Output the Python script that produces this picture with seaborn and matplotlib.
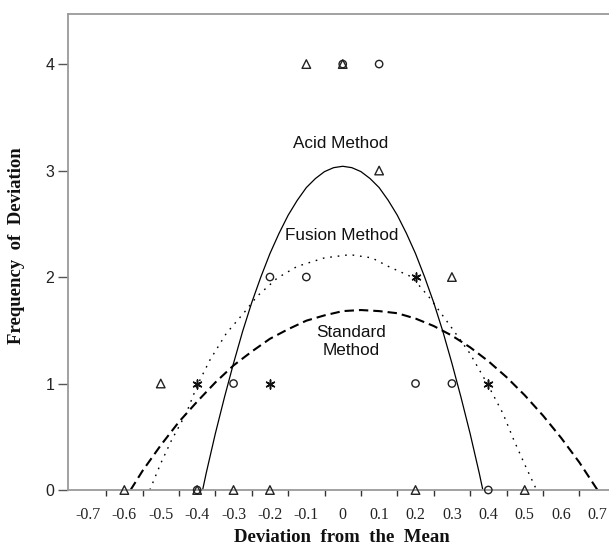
import matplotlib
matplotlib.use("Agg")
import matplotlib.pyplot as plt
import seaborn as sns

# ---- data ----
tick_values = [-0.7, -0.6, -0.5, -0.4, -0.3, -0.2, -0.1, 0, 0.1, 0.2, 0.3, 0.4, 0.5, 0.6, 0.7]
tick_labels = ["-0.7", "-0.6", "-0.5", "-0.4", "-0.3", "-0.2", "-0.1", "0",
               "0.1", "0.2", "0.3", "0.4", "0.5", "0.6", "0.7"]
y_ticks = [0, 1, 2, 3, 4]

tri_x = [-0.1, 0.0, 0.1, 0.3, -0.5, -0.6, -0.4, -0.3, -0.2, 0.2, 0.5]
tri_y = [4, 4, 3, 2, 1, 0, 0, 0, 0, 0, 0]
circ_x = [0.0, 0.1, -0.2, -0.1, -0.3, 0.2, 0.3, -0.4, 0.4]
circ_y = [4, 4, 2, 2, 1, 1, 1, 0, 0]
star_x = [0.2, -0.4, -0.2, 0.4]
star_y = [2, 1, 1, 1]

acid_x = [-0.385, -0.375, -0.35, -0.325, -0.30, -0.275, -0.25, -0.225, -0.20, -0.175,
          -0.15, -0.125, -0.10, -0.075, -0.05, -0.025, 0.0,
          0.025, 0.05, 0.075, 0.10, 0.125, 0.15, 0.175, 0.20, 0.225, 0.25, 0.275,
          0.30, 0.325, 0.35, 0.375, 0.385]
acid_y = [0.0, 0.16, 0.53, 0.87, 1.19, 1.49, 1.76, 2.00, 2.22, 2.41,
          2.58, 2.72, 2.84, 2.925, 2.99, 3.027, 3.04,
          3.027, 2.99, 2.925, 2.84, 2.72, 2.58, 2.41, 2.22, 2.00, 1.76, 1.49,
          1.19, 0.87, 0.53, 0.16, 0.0]

fusion_x = [-0.53, -0.50, -0.47, -0.43, -0.40, -0.365, -0.32, -0.27, -0.235, -0.18,
            -0.125, -0.05, 0.02, 0.08, 0.125, 0.19, 0.24, 0.30, 0.35, 0.40, 0.44,
            0.47, 0.50, 0.53]
fusion_y = [0.0, 0.25, 0.47, 0.72, 0.98, 1.22, 1.47, 1.67, 1.82, 1.99,
            2.10, 2.18, 2.21, 2.18, 2.10, 2.00, 1.80, 1.52, 1.28, 0.98, 0.72,
            0.47, 0.24, 0.02]

std_x = [-0.583, -0.55, -0.50, -0.45, -0.40, -0.35, -0.30, -0.25, -0.20, -0.15,
         -0.10, -0.05, 0.0, 0.05, 0.10, 0.15, 0.20, 0.25, 0.30, 0.35, 0.40,
         0.45, 0.50, 0.55, 0.60, 0.65, 0.70]
std_y = [0.0, 0.18, 0.42, 0.64, 0.83, 1.01, 1.17, 1.30, 1.42, 1.51,
         1.59, 1.64, 1.68, 1.69, 1.68, 1.66, 1.61, 1.54, 1.45, 1.34, 1.21,
         1.06, 0.89, 0.70, 0.49, 0.26, 0.0]

# ---- figure ----
sns.set_theme(style="white")
plt.rcParams["font.family"] = ["Liberation Sans", "DejaVu Sans"]

fig = plt.figure(figsize=(6.09, 5.56), dpi=100)
ax = fig.add_axes([68.3 / 609, 1 - 490 / 556, 1 - 68.3 / 609, (490 - 14) / 556])

sns.lineplot(x=acid_x, y=acid_y, ax=ax, color="black", linewidth=0.9,
             sort=False, estimator=None)
sns.lineplot(x=fusion_x, y=fusion_y, ax=ax, color="black", linewidth=1.0,
             sort=False, estimator=None, linestyle=(0, (1.2, 4.2)))
sns.lineplot(x=std_x, y=std_y, ax=ax, color="black", linewidth=1.5,
             sort=False, estimator=None, linestyle=(0, (4.5, 2.4)))

sns.scatterplot(x=tri_x, y=tri_y, ax=ax, marker="^", s=38, facecolor="none",
                edgecolor="#222222", linewidth=1.0, zorder=3, clip_on=False)
sns.scatterplot(x=circ_x, y=circ_y, ax=ax, marker="o", s=28, facecolor="none",
                edgecolor="#222222", linewidth=1.0, zorder=3, clip_on=False)
sns.scatterplot(x=star_x, y=star_y, ax=ax, marker=(6, 2, 0), s=42,
                color="#111111", linewidth=1.1, zorder=3, clip_on=False)

ax.set_xlim(-0.754, 0.7316)
ax.set_ylim(0, 4.47)

# spines
for side in ["left", "top", "bottom"]:
    ax.spines[side].set_visible(True)
    ax.spines[side].set_color("#9a9a9a")
    ax.spines[side].set_linewidth(1.3)
ax.spines["right"].set_visible(False)

# x ticks: labels at values, tick marks between them
ax.set_xticks(tick_values)
ax.set_xticklabels(tick_labels, family=["Liberation Serif", "DejaVu Serif"], fontsize=11.5)
ax.set_xticks([v + 0.05 for v in tick_values[:-1]], minor=True)
ax.tick_params(axis="x", which="major", length=0, pad=12, colors="#222222")
ax.tick_params(axis="x", which="minor", bottom=True, direction="out", length=4,
               width=1.0, color="#333333")

ax.set_yticks(y_ticks)
ax.set_yticklabels([str(v) for v in y_ticks], fontsize=11.5, color="#222222")
ax.tick_params(axis="y", which="major", left=True, direction="out", length=7,
               width=1.0, color="#555555", pad=3)

# axis labels
ax.set_xlabel("Deviation  from  the  Mean", family=["Liberation Serif", "DejaVu Serif"],
              fontweight="bold", fontsize=13.5, color="#111111")
ax.xaxis.set_label_coords((342 - 68.3) / 540.7, (490 - 538) / 476)
ax.xaxis.label.set_va("center")
ax.set_ylabel("Frequency  of  Deviation", family=["Liberation Serif", "DejaVu Serif"],
              fontweight="bold", fontsize=13.5, color="#111111")
ax.yaxis.set_label_coords((17 - 68.3) / 540.7, (490 - 246) / 476)
ax.yaxis.label.set_va("center")

# curve annotations
ax.text(-0.007, 3.25, "Acid Method", ha="center", va="center", fontsize=12.3, color="#111111")
ax.text(-0.002, 2.394, "Fusion Method", ha="center", va="center", fontsize=12.3, color="#111111")
ax.text(0.0225, 1.395, "Standard\nMethod", ha="center", va="center", fontsize=12.3,
        color="#111111", linespacing=1.25)

fig.savefig("out.png", dpi=100)
